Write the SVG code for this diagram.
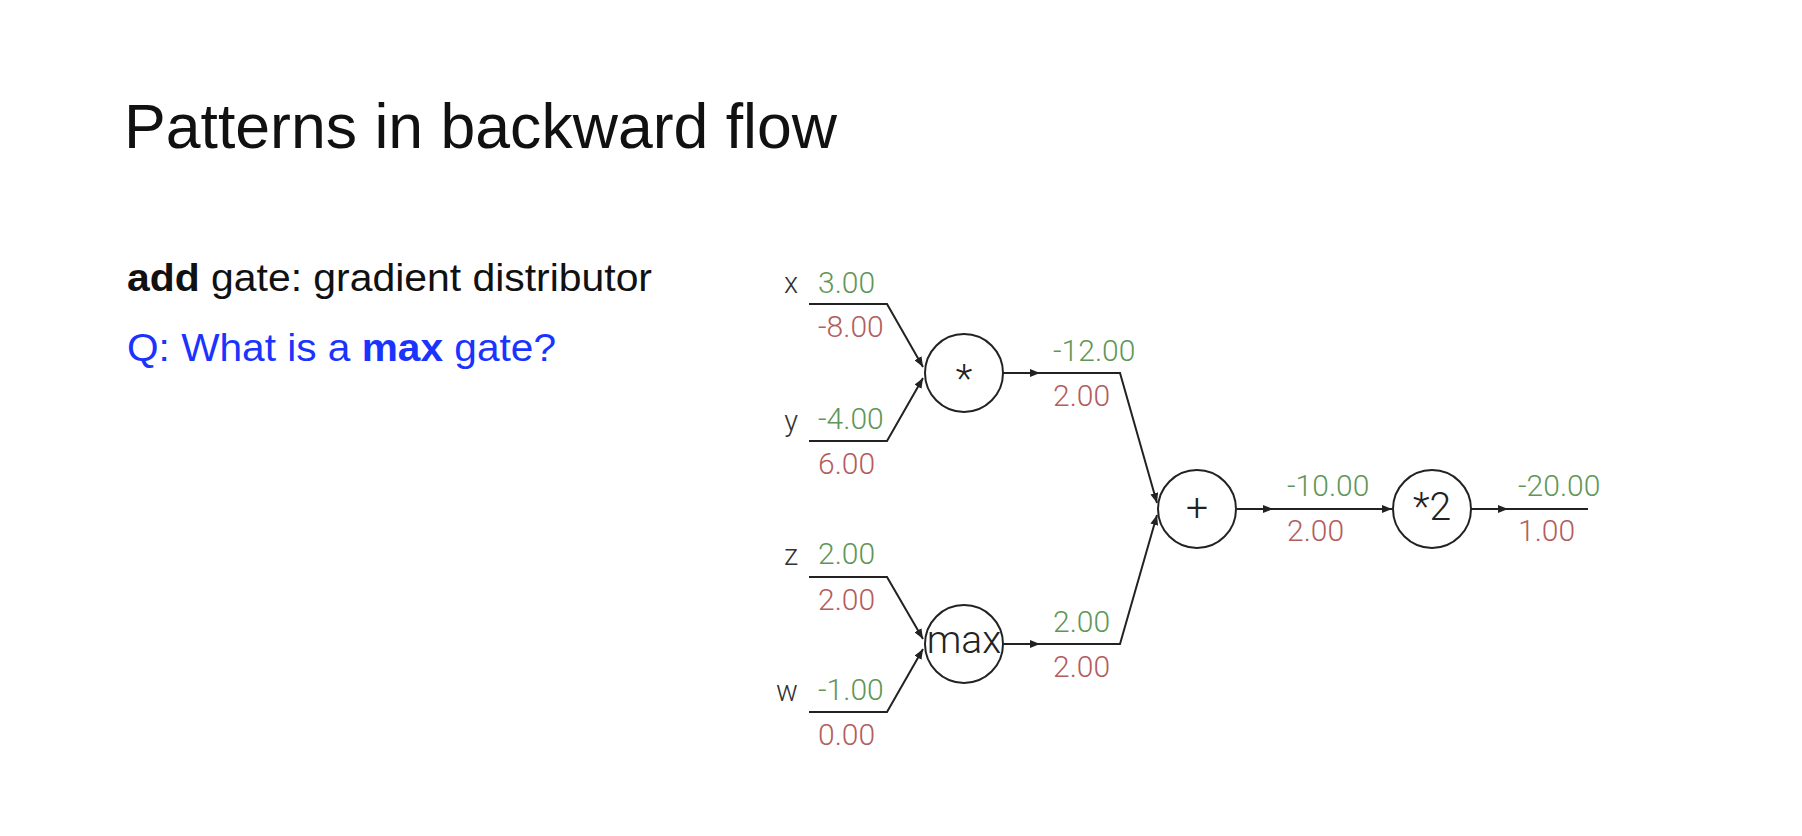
<svg xmlns="http://www.w3.org/2000/svg" width="1802" height="836" viewBox="0 0 1802 836">
  <style>
    .title { font-family: "Liberation Sans", Arial, sans-serif; font-size: 63px; fill: #111; }
    .body { font-family: "Liberation Sans", Arial, sans-serif; font-size: 38px; fill: #111; }
    .q { fill: #1a33ff; }
    .b { font-weight: bold; }
    .num { font-family: Roboto, "Liberation Sans", sans-serif; font-weight: 300; font-size: 30px; }
    .val { fill: #5f9657; }
    .grad { fill: #b35d5d; }
    .var { font-family: Roboto, "Liberation Sans", sans-serif; font-weight: 300; font-size: 29px; fill: #333; text-anchor: end; }
    .gate circle { fill: #fff; stroke: #222; stroke-width: 2; }
    .gate text { font-family: Roboto, "Liberation Sans", sans-serif; font-weight: 300; font-size: 39px; fill: #222; text-anchor: middle; }
    .wire { fill: none; stroke: #222; stroke-width: 2; }
  </style>
  <defs>
    <marker id="arrow" viewBox="0 0 10 8" refX="10" refY="4" markerWidth="10" markerHeight="8" markerUnits="userSpaceOnUse" orient="auto">
      <path d="M0,0 L10,4 L0,8 Z" fill="#222"/>
    </marker>
  </defs>

  <rect width="1802" height="836" fill="#fff"/>

  <!-- slide text -->
  <text class="title" x="124" y="148" textLength="713" lengthAdjust="spacingAndGlyphs">Patterns in backward flow</text>
  <text class="body" x="127" y="291" textLength="525" lengthAdjust="spacingAndGlyphs"><tspan class="b">add</tspan> gate: gradient distributor</text>
  <text class="body q" x="127" y="361" textLength="429" lengthAdjust="spacingAndGlyphs">Q: What is a <tspan class="b">max</tspan> gate?</text>

  <!-- connectors -->
  <g id="connectors" class="wire">
    <path d="M809,304 H887 L923,367" marker-end="url(#arrow)"/>
    <path d="M809,441 H887 L923,378" marker-end="url(#arrow)"/>
    <path d="M809,577 H887 L923,639" marker-end="url(#arrow)"/>
    <path d="M809,712 H887 L923,649" marker-end="url(#arrow)"/>
    <path d="M1003,373 H1040" marker-end="url(#arrow)"/>
    <path d="M1040,373 H1120 L1157,503" marker-end="url(#arrow)"/>
    <path d="M1003,644 H1040" marker-end="url(#arrow)"/>
    <path d="M1040,644 H1120 L1157,515" marker-end="url(#arrow)"/>
    <path d="M1237,509 H1273" marker-end="url(#arrow)"/>
    <path d="M1273,509 H1392" marker-end="url(#arrow)"/>
    <path d="M1471,509 H1508" marker-end="url(#arrow)"/>
    <path d="M1508,509 H1588"/>
  </g>

  <!-- inputs: name, forward value (green), gradient (red) -->
  <g id="in-x">
    <text class="var" x="798" y="293">x</text>
    <text class="num val" x="818" y="293">3.00</text>
    <text class="num grad" x="818" y="337">-8.00</text>
  </g>
  <g id="in-y">
    <text class="var" x="798" y="431">y</text>
    <text class="num val" x="818" y="429">-4.00</text>
    <text class="num grad" x="818" y="474">6.00</text>
  </g>
  <g id="in-z">
    <text class="var" x="798" y="565">z</text>
    <text class="num val" x="818" y="564">2.00</text>
    <text class="num grad" x="818" y="610">2.00</text>
  </g>
  <g id="in-w">
    <text class="var" x="798" y="701">w</text>
    <text class="num val" x="818" y="700">-1.00</text>
    <text class="num grad" x="818" y="745">0.00</text>
  </g>

  <!-- gates -->
  <g id="gate-mul" class="gate">
    <circle cx="964" cy="373" r="39"/>
    <text x="964" y="392">*</text>
  </g>
  <g id="gate-max" class="gate">
    <circle cx="964" cy="644" r="39"/>
    <text x="964" y="653">max</text>
  </g>
  <g id="gate-add" class="gate">
    <circle cx="1197" cy="509" r="39"/>
    <text x="1197" y="521">+</text>
  </g>
  <g id="gate-times2" class="gate">
    <circle cx="1432" cy="509" r="39"/>
    <text x="1432" y="520">*2</text>
  </g>

  <!-- edge values -->
  <g id="edge-mul">
    <text class="num val" x="1053" y="361">-12.00</text>
    <text class="num grad" x="1053" y="406">2.00</text>
  </g>
  <g id="edge-max">
    <text class="num val" x="1053" y="632">2.00</text>
    <text class="num grad" x="1053" y="677">2.00</text>
  </g>
  <g id="edge-add">
    <text class="num val" x="1287" y="496">-10.00</text>
    <text class="num grad" x="1287" y="541">2.00</text>
  </g>
  <g id="edge-out">
    <text class="num val" x="1518" y="496">-20.00</text>
    <text class="num grad" x="1518" y="541">1.00</text>
  </g>
</svg>
